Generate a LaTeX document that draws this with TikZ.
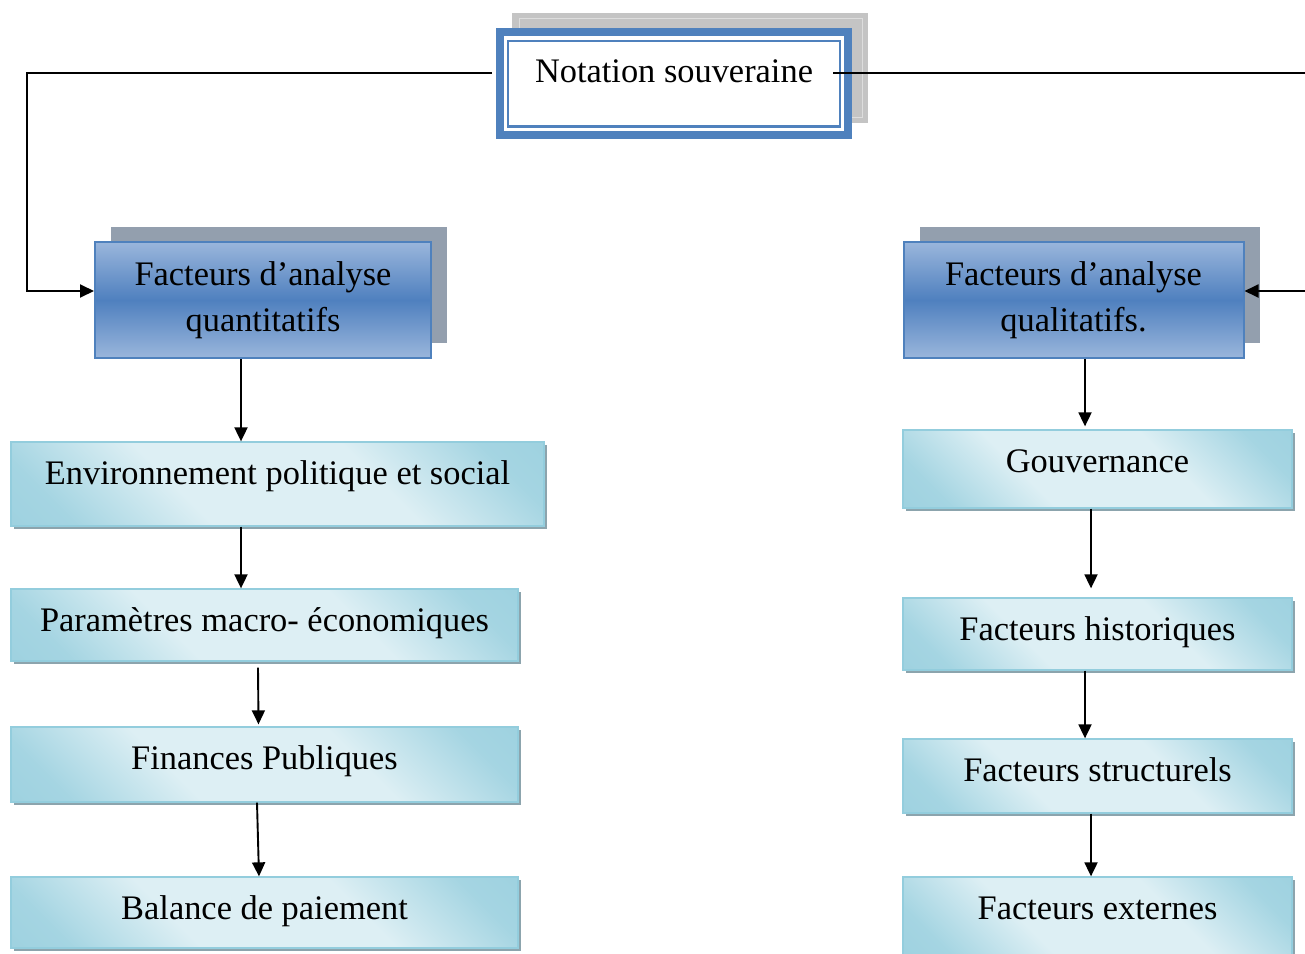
\documentclass[tikz,border=0pt]{standalone}
\usepackage{fontspec}
\setmainfont{Liberation Serif}
\usetikzlibrary{arrows.meta,shadows,backgrounds}

\definecolor{frameblue}{HTML}{4F81BD}
\definecolor{shadowgray}{HTML}{C4C4C4}
\definecolor{shadowline}{HTML}{DDDDDD}
\definecolor{blueshadow}{HTML}{939FAE}
\definecolor{bluetop}{HTML}{9AB6DC}
\definecolor{bluemid}{HTML}{4F80BF}
\definecolor{aqD}{HTML}{92CCDC}
\definecolor{aqL}{HTML}{DDEFF4}
\definecolor{aqborder}{HTML}{93CDDD}
\definecolor{aqshadow}{HTML}{8CA4AD}

% diagonal aqua gradient: darker corners, wide light band across the middle
\pgfdeclarehorizontalshading{aquafill}{100bp}{%
  color(0bp)=(aqD); color(22bp)=(aqD!75!aqL); color(38bp)=(aqL);
  color(62bp)=(aqL); color(78bp)=(aqD!75!aqL); color(100bp)=(aqD)}

\tikzset{
  txt/.style={font=\fontsize{34.4}{46}\selectfont},
  topframe/.style={txt, draw=frameblue, line width=8pt, fill=white,
    inner xsep=0pt, inner ysep=0pt, minimum width=348pt,
    text height=50pt, text depth=53pt},
  bluebox/.style={txt, draw=frameblue, line width=2pt, align=center,
    top color=bluetop, bottom color=bluetop, middle color=bluemid,
    minimum width=336pt, minimum height=116pt, inner sep=0pt,
    drop shadow={shadow xshift=16pt, shadow yshift=15pt,
      fill=blueshadow, opacity=1}},
  lightbox/.style={txt, draw=aqborder, line width=1.3pt,
    shading=aquafill, shading angle=45, inner sep=0pt,
    text height=42.5pt,
    drop shadow={shadow xshift=3pt, shadow yshift=-3pt,
      fill=aqshadow, opacity=1}},
  arr/.style={line width=1.9pt, -{Triangle[length=14pt,width=13pt]}},
}

\begin{document}
\begin{tikzpicture}[x=1pt,y=-1pt]
\useasboundingbox (0,0) rectangle (1305,953);
\clip (0,0) rectangle (1305,953);

% root: thick blue frame, thin inner rule, grey offset panel behind
\node[topframe] (ns) at (674,83.5) {Notation souveraine};
\begin{scope}[on background layer]
  \fill[shadowgray] ([shift={(16pt,15pt)}]ns.north west)
    rectangle ([shift={(16pt,16pt)}]ns.south east);
  \draw[shadowline, line width=1pt] ([shift={(23pt,10pt)}]ns.north west)
    rectangle ([shift={(10pt,22pt)}]ns.south east);
\end{scope}
\draw[frameblue, line width=2.6pt] ([shift={(11.8pt,-13pt)}]ns.north west)
  rectangle ([shift={(-12pt,12.3pt)}]ns.south east);

% the two families of factors
\node[bluebox] (qt) at (263,300) {Facteurs d’analyse\\quantitatifs};
\node[bluebox, minimum width=340pt] (ql) at (1073.5,300) {Facteurs d’analyse\\qualitatifs.};

% quantitative column
\node[lightbox, minimum width=533pt, minimum height=84pt, text depth=41.5pt]
  (env) at (277.5,484) {Environnement politique et social};
\node[lightbox, minimum width=507pt, minimum height=72pt, text depth=29.5pt]
  (par) at (264.5,625) {Paramètres macro- économiques};
\node[lightbox, minimum width=507pt, minimum height=75pt, text depth=32.5pt]
  (fin) at (264.5,764.5) {Finances Publiques};
\node[lightbox, minimum width=507pt, minimum height=71pt, text depth=28.5pt]
  (bal) at (264.5,912.5) {Balance de paiement};

% qualitative column
\node[lightbox, minimum width=389pt, minimum height=78pt, text depth=35.5pt]
  (gov) at (1097.5,469) {Gouvernance};
\node[lightbox, minimum width=389pt, minimum height=72pt, text depth=29.5pt]
  (his) at (1097.5,634) {Facteurs historiques};
\node[lightbox, minimum width=389pt, minimum height=74pt, text depth=31.5pt]
  (str) at (1097.5,776) {Facteurs structurels};
\node[lightbox, minimum width=389pt, minimum height=80pt, text depth=37.5pt]
  (ext) at (1097.5,917) {Facteurs externes};

% branches from the root
\coordinate (nsL) at ([shift={(-4pt,10.5pt)}]ns.west);
\coordinate (nsR) at ([shift={(-19pt,10.5pt)}]ns.east);
\coordinate (railL) at (27,0);
\coordinate (railR) at (1330,0);
\draw[arr] (nsL) -- (nsL -| railL) |- ([yshift=9pt]qt.west);
\draw[arr] (nsR) -- (nsR -| railR) |- ([yshift=9pt]ql.east);

% quantitative chain
\draw[arr] ([xshift=-22pt]qt.south) -- ([xshift=-22pt]qt.south |- env.north);
\draw[arr] ([xshift=-36.5pt]env.south) -- ([xshift=-36.5pt]env.south |- par.north);
\draw[arr] ([shift={(-6.5pt,-6pt)}]par.south) -- ([shift={(-6pt,2pt)}]fin.north);
\draw[arr] ([xshift=-7.5pt]fin.south) -- ([xshift=-5.5pt]bal.north);

% qualitative chain
\draw[arr] ([xshift=11.5pt]ql.south) -- ([xshift=-12.5pt,yshift=3pt]gov.north);
\draw[arr] ([xshift=-6.5pt]gov.south) -- ([xshift=-6.5pt,yshift=9pt]his.north);
\draw[arr] ([xshift=-12.5pt]his.south) -- ([xshift=-12.5pt]str.north);
\draw[arr] ([xshift=-6.5pt]str.south) -- ([xshift=-6.5pt]ext.north);
\end{tikzpicture}
\end{document}
